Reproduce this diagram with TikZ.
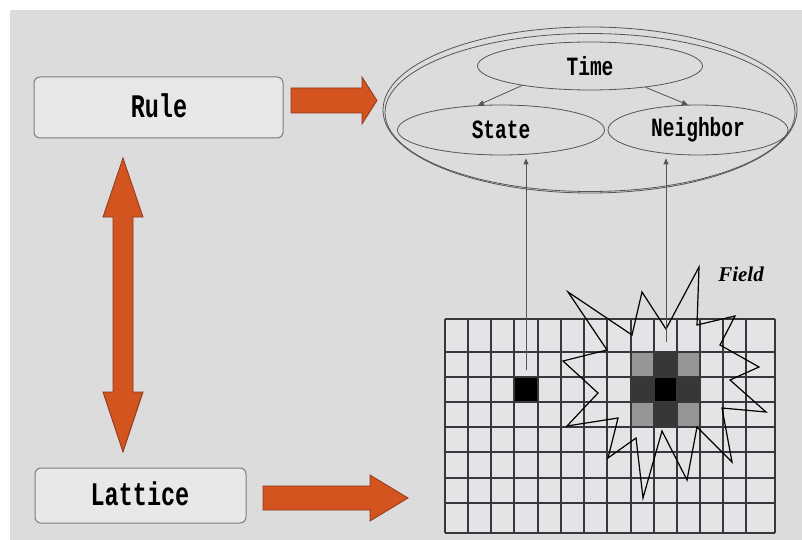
\documentclass[tikz,border=0pt]{standalone}
\usepackage{fontspec}
\usepackage{graphicx}
\setmonofont{Liberation Mono}
\setmainfont{Liberation Serif}
\usetikzlibrary{arrows.meta,shapes.geometric}
\definecolor{bg}{RGB}{220,220,220}
\definecolor{boxfill}{RGB}{232,232,232}
\definecolor{boxline}{RGB}{125,125,125}
\definecolor{orng}{RGB}{212,84,32}
\definecolor{orngline}{RGB}{140,58,28}
\definecolor{gridfill}{RGB}{228,228,230}
\definecolor{gridline}{RGB}{55,55,60}
\definecolor{ellline}{RGB}{85,85,85}
\definecolor{lightcell}{RGB}{150,150,150}
\definecolor{darkcell}{RGB}{55,55,55}
\begin{document}
\begin{tikzpicture}[x=1pt,y=-1pt,
  bigbox/.style={draw=boxline,fill=boxfill,line width=1pt,rounded corners=6pt,inner sep=0pt},
  biglbl/.style={font=\ttfamily\bfseries\fontsize{23.5}{24}\selectfont},
  ell/.style={draw=ellline,line width=0.8pt,ellipse,inner sep=0pt},
  elllbl/.style={font=\ttfamily\bfseries\fontsize{19.5}{20}\selectfont},
  blockarrow/.style={fill=orng,draw=orngline,line width=0.8pt,line join=miter},
  thinarrow/.style={draw=ellline,line width=0.8pt,-{Triangle[length=6pt,width=5pt]}},
  gridl/.style={draw=gridline,line width=1.1pt}]
\useasboundingbox (0,0) rectangle (802,540);
\fill[white] (0,0) rectangle (802,540);
\fill[bg] (10,10) rectangle (802,540);

% boxes
\node[bigbox,minimum width=249pt,minimum height=61pt] (rule) at (158.5,107.5) {};
\node[biglbl] (rulet) at (159,106) {\scalebox{1}[1.4]{Rule}};
\node[bigbox,minimum width=211pt,minimum height=55pt] (lattice) at (140.5,495.5) {};
\node[biglbl] (latticet) at (140,494) {\scalebox{1}[1.4]{Lattice}};

% orange block arrows
\draw[blockarrow] (291,88) -- (362,88) -- (362,77) -- (377,100.5) -- (362,124) -- (362,113) -- (291,113) -- cycle;
\draw[blockarrow] (263,486) -- (370,486) -- (370,475) -- (408,498) -- (370,521) -- (370,510) -- (263,510) -- cycle;
\draw[blockarrow] (123,158) -- (143,217) -- (133,217) -- (133,392) -- (143,392) -- (123,452) -- (103,392) -- (113,392) -- (113,217) -- (103,217) -- cycle;

% ellipses
\node[ell,minimum width=414pt,minimum height=166pt] (outer) at (590,110) {};
\draw[ellline,line width=0.8pt] (590,112.5) ellipse [x radius=205, y radius=79];
\node[ell,minimum width=225pt,minimum height=48pt,elllbl] (time) at (590,66) {\scalebox{1}[1.35]{Time}};
\node[ell,minimum width=207pt,minimum height=50pt,elllbl] (state) at (501,130) {\scalebox{1}[1.35]{State}};
\node[ell,minimum width=180pt,minimum height=50pt,elllbl] (neighbor) at (698,130) {\scalebox{1}[1.35]{Neighbor}};

\draw[thinarrow] (time.196) -- (state.133);
\draw[thinarrow] (time.339) -- (neighbor.112);

% grid
\fill[gridfill] (445,319) rectangle (775,533);
\fill[black] (514,377) rectangle (538,402);
\fill[lightcell] (631,352) rectangle (654,377);
\fill[darkcell] (654,352) rectangle (677,377);
\fill[lightcell] (677,352) rectangle (700,377);
\fill[darkcell] (631,377) rectangle (654,402);
\fill[black] (654,377) rectangle (677,402);
\fill[darkcell] (677,377) rectangle (700,402);
\fill[lightcell] (631,402) rectangle (654,427);
\fill[darkcell] (654,402) rectangle (677,427);
\fill[lightcell] (677,402) rectangle (700,427);
\foreach \x in {445,468,491,514,538,561,584,607,631,654,677,700,723,746,775}
  \draw[gridl] (\x,319) -- (\x,533);
\foreach \y in {319,352,377,402,427,452,478,503,533}
  \draw[gridl] (445,\y) -- (775,\y);

% star
\draw[black,line width=1.2pt,line join=miter] (568,292) -- (632,335) -- (642,292) -- (666,329) -- (699,267) -- (697,325) -- (735,316) -- (720,345) -- (759,367) -- (730,380) -- (766,412) -- (722,408) -- (732,462) -- (697,427) -- (687,480) -- (662,431) -- (643,498) -- (636,438) -- (608,458) -- (618,418) -- (567,426) -- (598,393) -- (563,361) -- (607,350) -- cycle;

\node[font=\rmfamily\bfseries\itshape\fontsize{21}{21}\selectfont] (field) at (741,274) {Field};

% vertical connectors
\coordinate (sfield) at (526,370);
\coordinate (nfield) at (666,342);
\draw[thinarrow,shorten >=3pt] (sfield) -- (sfield |- state.south);
\draw[thinarrow,shorten >=3pt] (nfield) -- (nfield |- neighbor.south);
\end{tikzpicture}
\end{document}
